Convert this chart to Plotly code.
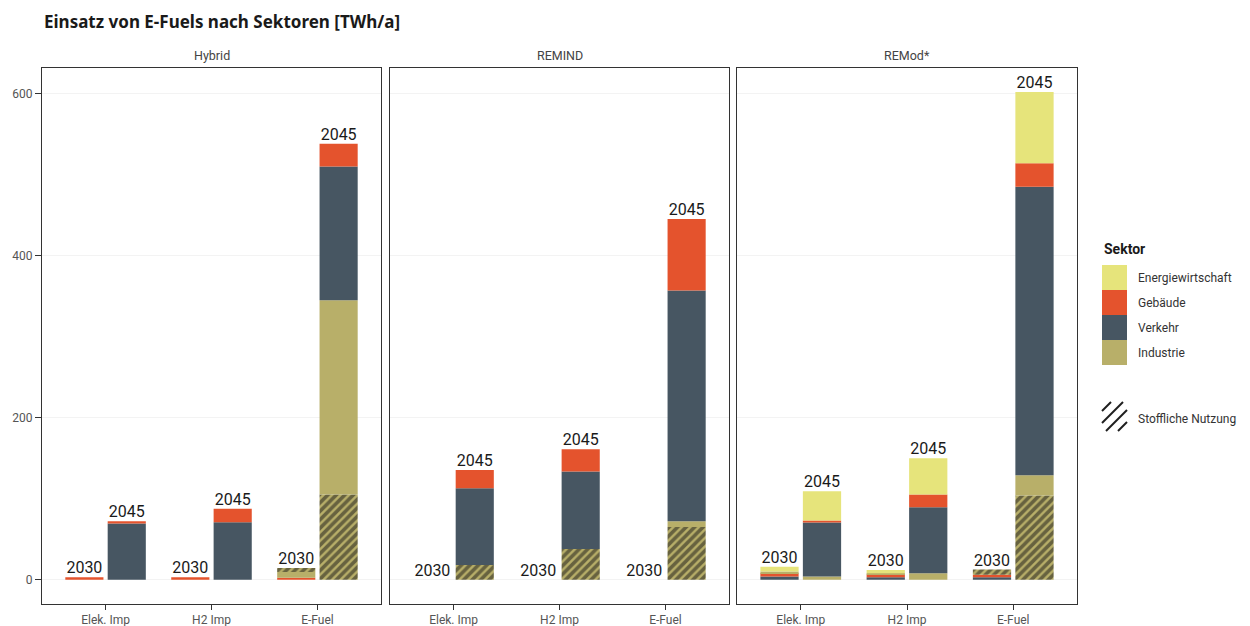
import plotly.graph_objects as go

# ---------------- data ----------------
scenarios = ["Hybrid", "REMIND", "REMod*"]
categories = ["Elek. Imp", "H2 Imp", "E-Fuel"]
years = ["2030", "2045"]
sectors = ["Energiewirtschaft", "Gebäude", "Verkehr", "Industrie", "Stoffliche Nutzung"]

# values [TWh/a], 9 entries each: Hybrid(Elek,H2,E-Fuel), REMIND(...), REMod*(...)
energie_2030 = [0, 0, 0,    0, 0, 0,    6, 4, 0]
gebaeude_2030 = [3, 3, 2.5,  0, 0, 0,    4, 3.5, 3]
verkehr_2030 = [0, 0, 0,    0, 0, 0,    4, 3, 3]
industrie_2030 = [0, 0, 7,  0, 0, 0,    2, 1.5, 0]
stofflich_2030 = [0, 0, 5,  0, 0, 0,    0, 0, 6.5]

energie_2045 = [0, 0, 0,        0, 0, 0,          36, 45, 88]
gebaeude_2045 = [2.5, 16.5, 28,  22.5, 27.5, 88,   2.5, 15.5, 29]
verkehr_2045 = [69.5, 71, 165,   95, 95.5, 285,    66.5, 81.5, 356]
industrie_2045 = [0, 0, 240,     0, 0, 7,          4, 8, 25]
stofflich_2045 = [0, 0, 105,     18, 38, 65,       0, 0, 104]

y_ticks = [0, 200, 400, 600]

# ---------------- style ----------------
colors = {
    "Energiewirtschaft": "#E6E47B",
    "Gebäude": "#E4532D",
    "Verkehr": "#475662",
    "Industrie": "#B8AF69",
    "Stoffliche Nutzung": "#B8AF69",
}
W, H = 1250, 626
OFF = 8  # page body margin of the html page
panels_px = [(42, 381), (390, 729), (737, 1077)]
top_px, bot_px = 68, 604
year_offset = {"2030": -0.2, "2045": 0.2}
bar_w = 0.36
FONT = "Roboto"


def px(x):
    return (x - OFF) / W


def py(y):
    return 1 - (y - OFF) / H


series = {
    "2030": [("Verkehr", verkehr_2030), ("Gebäude", gebaeude_2030),
             ("Industrie", industrie_2030), ("Stoffliche Nutzung", stofflich_2030),
             ("Energiewirtschaft", energie_2030)],
    "2045": [("Stoffliche Nutzung", stofflich_2045), ("Industrie", industrie_2045),
             ("Verkehr", verkehr_2045), ("Gebäude", gebaeude_2045),
             ("Energiewirtschaft", energie_2045)],
}

fig = go.Figure()

for p, scen in enumerate(scenarios):
    sfx = "" if p == 0 else str(p + 1)
    xa, ya = "x" + sfx, "y" + sfx
    for yr in years:
        xs = [i + 1 + year_offset[yr] for i in range(len(categories))]
        totals = [0.0] * len(categories)
        for sec, vals in series[yr]:
            v = vals[p * 3:(p + 1) * 3]
            totals = [t + a for t, a in zip(totals, v)]
            marker = dict(color=colors[sec], line=dict(width=0))
            if sec == "Stoffliche Nutzung":
                marker["pattern"] = dict(shape="/", fgcolor="#161616", fillmode="overlay",
                                         size=6, solidity=0.6)
            fig.add_trace(go.Bar(x=xs, y=v, width=bar_w, marker=marker, name=sec,
                                 xaxis=xa, yaxis=ya, showlegend=False, hoverinfo="skip"))
        fig.add_trace(go.Scatter(x=xs, y=totals, mode="text", text=[yr] * len(xs),
                                 textposition="top center",
                                 textfont=dict(family=FONT, size=16, color="#1a1a1a"),
                                 xaxis=xa, yaxis=ya, showlegend=False, cliponaxis=False,
                                 hoverinfo="skip"))

layout = dict(
    width=W, height=H, autosize=False,
    margin=dict(l=0, r=0, t=0, b=0),
    plot_bgcolor="white", paper_bgcolor="white",
    barmode="relative",
    font=dict(family=FONT, color="#333333"),
    showlegend=False,
)
ydom = [py(bot_px), py(top_px)]
for p in range(3):
    sfx = "" if p == 0 else str(p + 1)
    x0, x1 = panels_px[p]
    layout["xaxis" + sfx] = dict(
        domain=[px(x0), px(x1)], range=[0.4, 3.6], anchor="y" + sfx,
        tickvals=[1, 2, 3], ticktext=categories, ticks="outside", ticklen=5,
        tickcolor="#333333", tickfont=dict(family=FONT, size=12, color="#555555"),
        showgrid=False, zeroline=False, showline=True, linecolor="#333333",
        linewidth=1, mirror=True, automargin=False, fixedrange=True,
    )
    layout["yaxis" + sfx] = dict(
        domain=ydom, range=[-30, 631.5], anchor="x" + sfx,
        tickvals=y_ticks, ticks="outside" if p == 0 else "", ticklen=6,
        tickcolor="#333333", showticklabels=(p == 0),
        tickfont=dict(family=FONT, size=12, color="#555555"),
        showgrid=True, gridcolor="#f3f3f3", gridwidth=1, zeroline=False,
        showline=True, linecolor="#333333", linewidth=1, mirror=True,
        automargin=False, fixedrange=True,
        **({} if p == 0 else {"matches": "y"}),
    )

annotations = [dict(
    text="<b>Einsatz von E-Fuels nach Sektoren [TWh/a]</b>", x=px(42), y=py(22),
    xref="paper", yref="paper", xanchor="left", yanchor="middle", showarrow=False,
    font=dict(family="Noto Sans", size=17, color="#1a1a1a"))]
for p, scen in enumerate(scenarios):
    x0, x1 = panels_px[p]
    annotations.append(dict(text=scen, x=px((x0 + x1) / 2), y=py(55), xref="paper",
                            yref="paper", xanchor="center", yanchor="middle",
                            showarrow=False, font=dict(family=FONT, size=12.5, color="#444444")))

# manual legend
shapes = []
lx0, lx1 = 1102, 1127
annotations.append(dict(text="<b>Sektor</b>", x=px(lx0), y=py(249), xref="paper",
                        yref="paper", xanchor="left", yanchor="middle", showarrow=False,
                        font=dict(family=FONT, size=14, color="#1a1a1a")))
for k, sec in enumerate(sectors[:4]):
    t = 265 + 25 * k
    shapes.append(dict(type="rect", xref="paper", yref="paper", x0=px(lx0), x1=px(lx1),
                       y0=py(t + 25), y1=py(t), fillcolor=colors[sec],
                       line=dict(width=0), layer="above"))
    annotations.append(dict(text=sec, x=px(1136), y=py(t + 12.5), xref="paper",
                            yref="paper", xanchor="left", yanchor="middle", showarrow=False,
                            font=dict(family=FONT, size=12, color="#333333")))
# hatch swatch for Stoffliche Nutzung
hatch_lines = [((1102, 411), (1111, 402)), ((1102, 423), (1123, 402)),
               ((1106, 431), (1127, 410)), ((1118, 431), (1127, 422))]
for (ax, ay), (bx, by) in hatch_lines:
    shapes.append(dict(type="line", xref="paper", yref="paper", x0=px(ax), y0=py(ay),
                       x1=px(bx), y1=py(by), line=dict(color="#1e1e1e", width=2)))
annotations.append(dict(text="Stoffliche Nutzung", x=px(1136), y=py(419), xref="paper",
                        yref="paper", xanchor="left", yanchor="middle", showarrow=False,
                        font=dict(family=FONT, size=12, color="#333333")))

layout["annotations"] = annotations
layout["shapes"] = shapes
fig.update_layout(**layout)
fig.write_html("out.html")
